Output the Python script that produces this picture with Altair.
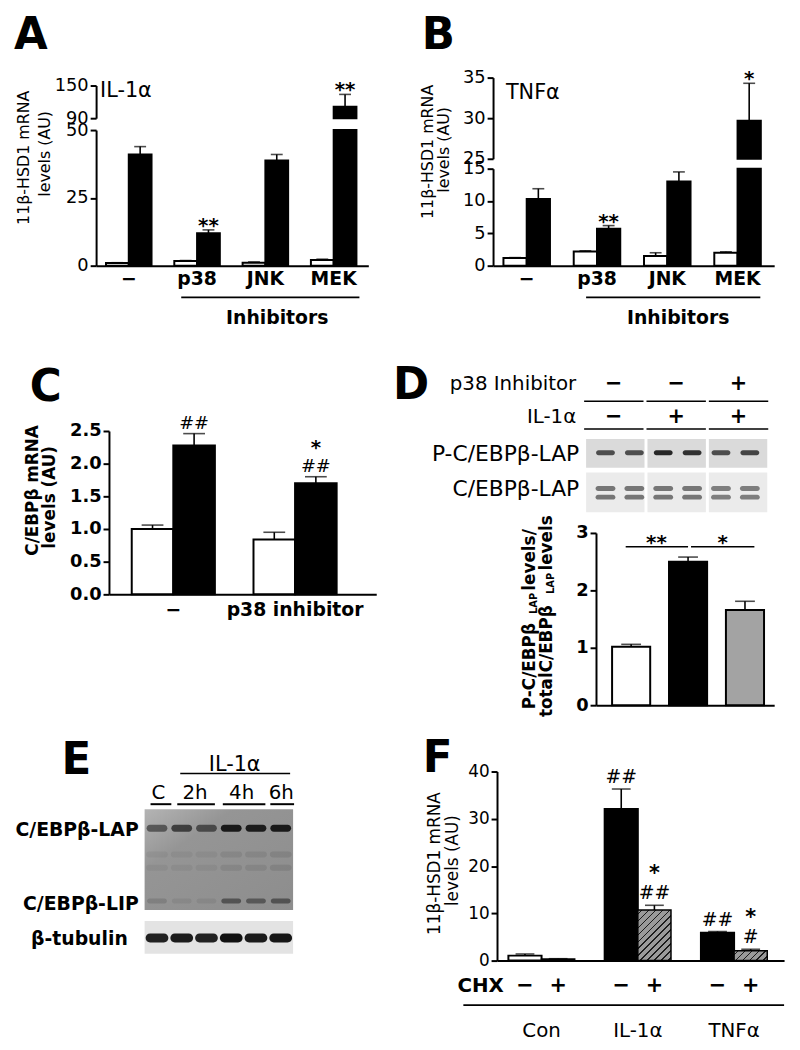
import altair as alt
import pandas as pd

FONT = "DejaVu Sans"
M = 8
W, H = 792, 1042


def X(p):
    return p - M


def Y(p):
    return p - M


# ---------------- data ----------------
# Panel A: 11b-HSD1 mRNA, IL-1a, kinase inhibitors
a_groups = ["−", "p38", "JNK", "MEK"]
a_ctrl = [1.0, 1.7, 1.1, 2.1]
a_ctrl_err = [0.1, 0.2, 0.3, 0.3]
a_il1 = [41.0, 12.0, 38.8, 111.0]
a_il1_err = [2.9, 1.2, 2.2, 22.7]
a_marks = ["", "**", "", "**"]

# Panel B: TNFa
b_groups = ["−", "p38", "JNK", "MEK"]
b_ctrl = [1.2, 2.2, 1.5, 2.0]
b_ctrl_err = [0.05, 0.1, 0.5, 0.15]
b_tnf = [10.3, 5.7, 13.0, 29.7]
b_tnf_err = [1.6, 0.5, 1.5, 4.6]
b_marks = ["", "**", "", "*"]

# Panel C: C/EBPb mRNA
c_groups = ["−", "p38 inhibitor"]
c_ctrl = [1.0, 0.84]
c_ctrl_err = [0.06, 0.11]
c_il1 = [2.28, 1.70]
c_il1_err = [0.18, 0.10]
c_hash = ["##", "##"]
c_star = ["", "*"]

# Panel D: P-C/EBPb-LAP / total
d_conds = ["Control", "IL-1α", "IL-1α + p38 inhibitor"]
d_vals = [1.02, 2.50, 1.66]
d_err = [0.04, 0.08, 0.15]
d_sections = ["s1", "s2", "s3"]
d_p38_row = ["−", "−", "+"]
d_il1_row = ["−", "+", "+"]
d_lanes = ["1", "2", "3", "4", "5", "6"]
d_phospho = [0.75, 0.75, 0.95, 0.9, 0.75, 0.8]
d_total = [0.7, 0.7, 0.7, 0.7, 0.65, 0.65]
d_phospho_pos = [0.48]
d_total_pos = [0.4, 0.62]

# Panel E: C/EBPb western blot time course
e_lanes = ["C", "2h-a", "2h-b", "4h-a", "4h-b", "6h"]
e_times = ["C", "2h", "4h", "6h"]
e_lap = [0.55, 0.7, 0.6, 0.97, 0.95, 0.97]
e_lip = [0.15, 0.08, 0.08, 0.5, 0.45, 0.5]
e_mid = [0.08, 0.08, 0.08, 0.12, 0.12, 0.14]
e_tub = [0.92, 0.95, 0.92, 1.0, 0.95, 0.97]
e_lap_pos = 0.19
e_lip_pos = 0.91
e_mid_pos = [0.45, 0.58]
e_tub_pos = 0.52

# Panel F: cycloheximide
f_groups = ["Con", "IL-1α", "TNFα"]
f_chx = ["−", "+"]
f_minus = [1.05, 32.1, 5.9]
f_minus_err = [0.35, 4.2, 0.25]
f_plus = [0.35, 10.7, 2.1]
f_plus_err = [0.05, 1.0, 0.3]
f_hash_minus = ["", "##", "##"]
f_hash_plus = ["", "##", "#"]
f_star_plus = ["", "*", "*"]


# ---------------- helpers ----------------
def band(a0, a1, c0, c1, n, bw):
    step = (c1 - c0) / (n - 1)
    pi = 1 - bw / step
    L = a1 - a0
    po = max(0.0, (L / step - n + pi) / 2)
    step2 = L / (n - pi + 2 * po)
    left = L - step2 * (n - pi)
    al = (c0 - bw / 2 - a0) / left if left > 0 else 0.5
    al = min(1.0, max(0.0, al))
    return dict(type="band", range=[X(a0), X(a1)], paddingInner=pi, paddingOuter=po, align=al)


def yscale(d0, d1, p0, p1):
    return alt.Scale(domain=[d0, d1], range=[Y(p0), Y(p1)], nice=False, zero=False, clamp=True)


def yaxis(xp, values, size=18, bold=False, fmt=None):
    kw = dict(orient="left", offset=-X(xp), values=values, title=None, grid=False,
              domain=True, domainColor="black", domainWidth=2, ticks=True,
              tickColor="black", tickWidth=2, tickSize=6,
              labelFont=FONT, labelFontSize=size,
              labelFontWeight="bold" if bold else "normal", labelColor="black",
              labelPadding=2, labelFlush=False, labelOverlap=False)
    if fmt:
        kw["format"] = fmt
    return alt.Axis(**kw)


def xaxis(yp, labels=True, size=19, bold=True, pad=4):
    return alt.Axis(orient="bottom", offset=Y(yp) - H, title=None, grid=False,
                    domain=True, domainColor="black", domainWidth=2, ticks=False,
                    tickSize=0, labels=labels, labelFont=FONT, labelFontSize=size,
                    labelFontWeight="bold" if bold else "normal", labelColor="black",
                    labelPadding=pad, labelAngle=0)


def long_df(groups, series):
    rows = []
    for s, vals, errs in series:
        for g, v, e in zip(groups, vals, errs):
            rows.append({"g": g, "s": s, "v": v, "top": v + e})
    return pd.DataFrame(rows)


def enc_x(xkw, groups, axis=None):
    return alt.X("g:N", scale=alt.Scale(domain=groups, **xkw), axis=axis, title=None)


def enc_xo(subs):
    return alt.XOffset("s:N", scale=alt.Scale(type="band", domain=subs, paddingInner=0, paddingOuter=0))


def seg_layers(df, groups, subs, xkw, ys, fills, lo, hi, xax=None, yax=None, cap=12, draw_bars=True):
    out = []
    d = df[df["v"] > lo] if lo > 0 else df
    if draw_bars:
        out.append(alt.Chart(d).mark_bar(stroke="black", strokeWidth=2).encode(
            x=enc_x(xkw, groups, xax), xOffset=enc_xo(subs),
            y=alt.Y("v:Q", scale=ys, axis=yax, title=None), y2=alt.Y2Datum(lo),
            fill=alt.Fill("s:N", scale=alt.Scale(domain=subs, range=fills), legend=None)))
    e = df[(df["top"] <= hi) & (df["v"] >= lo)]
    if len(e):
        out.append(alt.Chart(e).mark_rule(color="black", strokeWidth=1.6).encode(
            x=enc_x(xkw, groups), xOffset=enc_xo(subs),
            y=alt.Y("v:Q", scale=ys, axis=None), y2="top:Q"))
        out.append(alt.Chart(e).mark_tick(color="black", thickness=1.6, size=cap).encode(
            x=enc_x(xkw, groups), xOffset=enc_xo(subs),
            y=alt.Y("top:Q", scale=ys, axis=None)))
    return out


def note_layer(df, groups, subs, xkw, ys, dy, size=20, bold=True):
    return alt.Chart(df).mark_text(font=FONT, fontSize=size, fontWeight="bold" if bold else "normal",
                                   color="black", dy=dy, baseline="alphabetic", align="center").encode(
        x=enc_x(xkw, groups), xOffset=enc_xo(subs),
        y=alt.Y("top:Q", scale=ys, axis=None), text="m:N")


def notes_df(groups, sub, tops, marks, lo, hi):
    rows = [{"g": g, "s": sub, "top": t, "m": m} for g, t, m in zip(groups, tops, marks)
            if m and lo <= t <= hi]
    return pd.DataFrame(rows)


def label(text, x, y, size=18, bold=False, align="center", angle=0, baseline="middle"):
    kw = dict(font=FONT, fontSize=size, fontWeight="bold" if bold else "normal",
              align=align, baseline=baseline, color="black")
    if angle:
        kw["angle"] = angle
    return alt.Chart(pd.DataFrame({"t": [text]})).mark_text(**kw).encode(
        x=alt.value(X(x)), y=alt.value(Y(y)), text=alt.Text("t:N"))


def hline(x0, x1, y, w=1.6):
    return alt.Chart(pd.DataFrame({"k": [0]})).mark_rule(color="black", strokeWidth=w).encode(
        x=alt.value(X(x0)), x2=alt.value(X(x1)), y=alt.value(Y(y)))


BW = {"P": .733, "-": .415, "C": .734, "/": .365, "E": .683, "B": .762, "β": .715,
      "L": .637, "A": .774, " ": .348, "l": .343, "e": .678, "v": .652, "s": .595,
      "t": .478, "o": .687, "a": .675}


def tw(s, size):
    return sum(BW.get(c, .65) for c in s) * size * 1.1


layers = []

# ================= Panel A =================
a_df = long_df(a_groups, [("c", a_ctrl, a_ctrl_err), ("t", a_il1, a_il1_err)])
a_x = band(97, 372, 130, 337, 4, 46)
a_lo = yscale(0, 50, 263, 126)
a_hi = yscale(90, 150, 114, 81)
layers += seg_layers(a_df, a_groups, ["c", "t"], a_x, a_lo, ["white", "black"], 0, 50,
                     xax=xaxis(263), yax=yaxis(97, [0, 25, 50]))
layers += seg_layers(a_df, a_groups, ["c", "t"], a_x, a_hi, ["white", "black"], 90, 150,
                     yax=yaxis(97, [90, 150]))
a_tops = [v + e for v, e in zip(a_il1, a_il1_err)]
layers.append(note_layer(notes_df(a_groups, "t", a_tops, a_marks, 0, 50), a_groups, ["c", "t"], a_x, a_lo, 2))
layers.append(note_layer(notes_df(a_groups, "t", a_tops, a_marks, 90, 150), a_groups, ["c", "t"], a_x, a_hi, 2))
layers += [
    label("A", 14, 31, 44, True, "left"),
    label("IL-1α", 101, 86.5, 21, False, "left"),
    label("11β-HSD1 mRNA", 24, 154, 16, False, angle=270),
    label("levels (AU)", 45, 150, 16, False, angle=270),
    hline(183, 363, 295),
    label("Inhibitors", 280, 316, 19, True),
]

# ================= Panel B =================
b_df = long_df(b_groups, [("c", b_ctrl, b_ctrl_err), ("t", b_tnf, b_tnf_err)])
b_x = band(498, 782, 532, 745, 4, 47)
b_lo = yscale(0, 15, 263, 165)
b_hi = yscale(25, 35, 155, 73)
layers += seg_layers(b_df, b_groups, ["c", "t"], b_x, b_lo, ["white", "black"], 0, 15,
                     xax=xaxis(263), yax=yaxis(498, [0, 5, 10, 15]))
layers += seg_layers(b_df, b_groups, ["c", "t"], b_x, b_hi, ["white", "black"], 25, 35,
                     yax=yaxis(498, [25, 30, 35]))
b_tops = [v + e for v, e in zip(b_tnf, b_tnf_err)]
layers.append(note_layer(notes_df(b_groups, "t", b_tops, b_marks, 0, 15), b_groups, ["c", "t"], b_x, b_lo, 2))
layers.append(note_layer(notes_df(b_groups, "t", b_tops, b_marks, 25, 35), b_groups, ["c", "t"], b_x, b_hi, 2))
layers += [
    label("B", 426, 31, 44, True, "left"),
    label("TNFα", 511, 88.5, 21, False, "left"),
    label("11β-HSD1 mRNA", 432, 148, 16, False, angle=270),
    label("levels (AU)", 449, 146, 16, False, angle=270),
    hline(592, 768, 295),
    label("Inhibitors", 685, 316, 19, True),
]

# ================= Panel C =================
c_df = long_df(c_groups, [("c", c_ctrl, c_ctrl_err), ("t", c_il1, c_il1_err)])
c_x = band(110, 380, 175, 298, 2, 84)
c_y = yscale(0, 2.5, 595, 430)
layers += seg_layers(c_df, c_groups, ["c", "t"], c_x, c_y, ["white", "black"], 0, 2.5,
                     xax=xaxis(595, pad=6), yax=yaxis(110, [0, 0.5, 1.0, 1.5, 2.0, 2.5], bold=True, fmt=".1f"),
                     cap=22)
c_tops = [v + e for v, e in zip(c_il1, c_il1_err)]
layers.append(note_layer(notes_df(c_groups, "t", c_tops, c_hash, 0, 3), c_groups, ["c", "t"], c_x, c_y, -5, 18, False))
layers.append(note_layer(notes_df(c_groups, "t", c_tops, c_star, 0, 3), c_groups, ["c", "t"], c_x, c_y, -23, 20, True))
layers += [
    label("C", 30, 387, 44, True, "left"),
    label("C/EBPβ mRNA", 33, 490, 17, True, angle=270),
    label("levels (AU)", 50, 497, 17, True, angle=270),
]

# ================= Panel D =================
def sect_scale(x0, x1, gap):
    n = len(d_sections)
    L = x1 - x0
    pi = gap * n / (L + gap)
    return alt.Scale(type="band", domain=d_sections, range=[X(x0), X(x1)], paddingInner=pi, paddingOuter=0)


hdr = pd.DataFrame({"sec": d_sections, "p38": d_p38_row, "il1": d_il1_row})
for col, yy, yl in [("p38", 383, 400), ("il1", 416, 428)]:
    layers.append(alt.Chart(hdr).mark_text(font=FONT, fontSize=21, fontWeight="bold", color="black",
                                           baseline="middle").encode(
        x=alt.X("sec:N", scale=sect_scale(590, 776, 3), axis=None),
        y=alt.value(Y(yy)), text=alt.Text(col + ":N")))
    layers.append(alt.Chart(hdr).mark_rect(color="black").encode(
        x=alt.X("sec:N", scale=sect_scale(590, 776, 3), axis=None),
        y=alt.value(Y(yl - 0.8)), y2=alt.value(Y(yl + 0.8))))

for y0, y1, bg in [(438, 467, "#dadada"), (472, 512, "#ebebeb")]:
    bgdf = pd.DataFrame({"sec": d_sections, "row": ["r"] * 3})
    layers.append(alt.Chart(bgdf).mark_rect(fill=bg).encode(
        x=alt.X("sec:N", scale=sect_scale(592, 775, 3), axis=None),
        y=alt.Y("row:N", scale=alt.Scale(type="band", domain=["r"], range=[Y(y0), Y(y1)], paddingInner=0, paddingOuter=0), axis=None)))


def blot_bands(lanes, intens, positions, x0, x1, y0, y1, size, thick, color):
    rows = [{"lane": l, "i": i, "pos": p} for p in positions for l, i in zip(lanes, intens)]
    return alt.Chart(pd.DataFrame(rows)).mark_tick(size=size, thickness=thick, color=color, cornerRadius=thick / 2).encode(
        x=alt.X("lane:N", scale=alt.Scale(type="band", domain=lanes, range=[X(x0), X(x1)], paddingInner=0, paddingOuter=0), axis=None),
        y=alt.Y("pos:Q", scale=alt.Scale(domain=[0, 1], range=[Y(y0), Y(y1)], nice=False, zero=False), axis=None),
        opacity=alt.Opacity("i:Q", scale=alt.Scale(domain=[0, 1], range=[0, 1]), legend=None))


layers.append(blot_bands(d_lanes, d_phospho, d_phospho_pos, 597, 772, 438, 467, 19, 5, "#1e1e1e"))
layers.append(blot_bands(d_lanes, d_total, d_total_pos, 597, 772, 472, 512, 20, 5, "#444444"))
layers += [
    label("D", 397, 385, 44, True, "left"),
    label("p38 Inhibitor", 582, 383, 20, False, "right"),
    label("IL-1α", 582, 416, 20, False, "right"),
    label("P-C/EBPβ-LAP", 585, 453, 22, False, "right"),
    label("C/EBPβ-LAP", 585, 489, 22, False, "right"),
]

d_df = pd.DataFrame({"g": d_conds, "s": d_conds, "v": d_vals, "top": [v + e for v, e in zip(d_vals, d_err)]})
d_x = band(602, 782, 637.5, 752.5, 3, 38.5)
d_y = yscale(0, 3, 707, 533)


def d_enc_x(ax=None):
    return alt.X("g:N", scale=alt.Scale(domain=d_conds, **d_x), axis=ax, title=None)


layers.append(alt.Chart(d_df).mark_bar(stroke="black", strokeWidth=2).encode(
    x=d_enc_x(xaxis(707, labels=False)), y=alt.Y("v:Q", scale=d_y, axis=yaxis(602, [0, 1, 2, 3], bold=True), title=None),
    y2=alt.Y2Datum(0),
    fill=alt.Fill("g:N", scale=alt.Scale(domain=d_conds, range=["white", "black", "#a3a3a3"]), legend=None)))
layers.append(alt.Chart(d_df).mark_rule(color="black", strokeWidth=1.6).encode(
    x=d_enc_x(), y=alt.Y("v:Q", scale=d_y, axis=None), y2="top:Q"))
layers.append(alt.Chart(d_df).mark_tick(color="black", thickness=1.6, size=20).encode(
    x=d_enc_x(), y=alt.Y("top:Q", scale=d_y, axis=None)))
layers += [
    hline(632, 695, 547), hline(698, 762, 547),
    label("**", 663, 549, 20, True, baseline="alphabetic"),
    label("*", 730, 549, 20, True, baseline="alphabetic"),
]
# rotated two-line title with subscripts
for xx, y0, p1, p3 in [(535, 711, "P-C/EBPβ", " levels/"), (553, 719, "totalC/EBPβ", " levels")]:
    l1 = tw(p1, 17)
    l2 = tw("LAP", 10)
    layers.append(label(p1, xx, y0, 17, True, "left", angle=270))
    layers.append(label("LAP", xx + 4, y0 - l1, 10, True, "left", angle=270))
    layers.append(label(p3, xx, y0 - l1 - l2, 17, True, "left", angle=270))

# ================= Panel E =================
e_grad = alt.LinearGradient(gradient="linear", x1=0, y1=0, x2=1, y2=1,
                            stops=[alt.GradientStop(offset=0, color="#b4b4b4"),
                                   alt.GradientStop(offset=0.3, color="#959595"),
                                   alt.GradientStop(offset=1, color="#8d8d8d")])
for y0, y1, fill in [(812, 914, e_grad), (925, 958, "#e3e3e3")]:
    layers.append(alt.Chart(pd.DataFrame({"sec": ["b"], "row": ["r"]})).mark_rect(fill=fill).encode(
        x=alt.X("sec:N", scale=alt.Scale(type="band", domain=["b"], range=[X(146), X(296)], paddingInner=0, paddingOuter=0), axis=None),
        y=alt.Y("row:N", scale=alt.Scale(type="band", domain=["r"], range=[Y(y0), Y(y1)], paddingInner=0, paddingOuter=0), axis=None)))
layers.append(blot_bands(e_lanes, e_mid, e_mid_pos, 146, 296, 812, 914, 22, 6, "#303030"))
layers.append(blot_bands(e_lanes, e_lap, [e_lap_pos], 146, 296, 812, 914, 21, 7, "#151515"))
layers.append(blot_bands(e_lanes, e_lip, [e_lip_pos], 146, 296, 812, 914, 20, 5, "#151515"))
layers.append(blot_bands(e_lanes, e_tub, [e_tub_pos], 146, 296, 925, 958, 23, 9, "#101010"))
layers += [
    label("E", 62, 764, 44, True, "left"),
    label("IL-1α", 237, 767, 21),
    hline(182, 293, 776),
    label(e_times[0], 160, 796, 20), label(e_times[1], 197, 796, 20),
    label(e_times[2], 244, 796, 20), label(e_times[3], 284, 796, 20),
    hline(152, 173, 807, 2), hline(179, 217, 807, 2), hline(225, 268, 807, 2), hline(273, 297, 807, 2),
    label("C/EBPβ-LAP", 140, 833, 19, True, "right"),
    label("C/EBPβ-LIP", 140, 908, 19, True, "right"),
    label("β-tubulin", 129, 943, 19, True, "right"),
]

# ================= Panel F =================
f_df = long_df(f_groups, [("−", f_minus, f_minus_err), ("+", f_plus, f_plus_err)])
f_x = band(502, 792, 547, 741.5, 3, 67)
f_y = yscale(0, 40, 965, 774)
ppu = (965 - 774) / 40.0
f_w = 67 / 2.0


def hatch(w, h, period=7.0, lw=1.5, bg="#9a9a9a", fg="#1c1c1c"):
    S = w + h
    k = S / (w * w + h * h)
    stops = [alt.GradientStop(offset=0, color=bg)]
    p = period / 2
    while p + lw < S:
        a, b = p / S, (p + lw) / S
        stops += [alt.GradientStop(offset=a, color=bg), alt.GradientStop(offset=a, color=fg),
                  alt.GradientStop(offset=b, color=fg), alt.GradientStop(offset=b, color=bg)]
        p += period
    stops.append(alt.GradientStop(offset=1, color=bg))
    return alt.LinearGradient(gradient="linear", stops=stops, x1=0, y1=0, x2=w * k, y2=h * k)


f_minus_df = f_df[f_df["s"] == "−"]
layers.append(alt.Chart(f_minus_df).mark_bar(stroke="black", strokeWidth=2).encode(
    x=enc_x(f_x, f_groups, xaxis(965, labels=False)), xOffset=enc_xo(f_chx),
    y=alt.Y("v:Q", scale=f_y, axis=yaxis(502, [0, 10, 20, 30, 40], size=17), title=None), y2=alt.Y2Datum(0),
    fill=alt.Fill("g:N", scale=alt.Scale(domain=f_groups, range=["white", "black", "black"]), legend=None)))
for g, v in zip(f_groups, f_plus):
    sub = f_df[(f_df["s"] == "+") & (f_df["g"] == g)]
    layers.append(alt.Chart(sub).mark_bar(stroke="black", strokeWidth=1.5, fill=hatch(f_w, max(v * ppu, 1.0))).encode(
        x=enc_x(f_x, f_groups), xOffset=enc_xo(f_chx),
        y=alt.Y("v:Q", scale=f_y, axis=None), y2=alt.Y2Datum(0)))
layers += seg_layers(f_df, f_groups, f_chx, f_x, f_y, None, 0, 40, cap=19, draw_bars=False)
f_tops_m = [v + e for v, e in zip(f_minus, f_minus_err)]
f_tops_p = [v + e for v, e in zip(f_plus, f_plus_err)]
hash_df = pd.concat([notes_df(f_groups, "−", f_tops_m, f_hash_minus, 0, 50),
                     notes_df(f_groups, "+", f_tops_p, f_hash_plus, 0, 50)])
layers.append(note_layer(hash_df, f_groups, f_chx, f_x, f_y, -6, 19, False))
layers.append(note_layer(notes_df(f_groups, "+", f_tops_p, f_star_plus, 0, 50), f_groups, f_chx, f_x, f_y, -26, 21, True))
sign_df = pd.DataFrame([{"g": g, "s": s} for g in f_groups for s in f_chx])
layers.append(alt.Chart(sign_df).mark_text(font=FONT, fontSize=21, fontWeight="bold", color="black", baseline="middle").encode(
    x=enc_x(f_x, f_groups), xOffset=enc_xo(f_chx), y=alt.value(Y(991)), text="s:N"))
layers.append(alt.Chart(pd.DataFrame({"g": f_groups})).mark_text(font=FONT, fontSize=20, color="black", baseline="middle").encode(
    x=enc_x(f_x, f_groups), y=alt.value(Y(1036)), text="g:N"))
layers += [
    label("F", 427, 761, 44, True, "left"),
    label("CHX", 462, 991, 20, True, "left"),
    hline(468, 792, 1010),
    label("11β-HSD1 mRNA", 439, 867, 17, False, angle=270),
    label("levels (AU)", 458, 864, 17, False, angle=270),
]

chart = alt.layer(*layers).properties(
    width=W, height=H, padding=0, autosize=alt.AutoSizeParams(type="none"), background="white"
).resolve_scale(
    x="independent", y="independent", xOffset="independent", fill="independent", opacity="independent"
).resolve_axis(x="independent", y="independent").configure_view(stroke=None)

chart.save("out.html", embed_options={"renderer": "svg", "actions": False})
